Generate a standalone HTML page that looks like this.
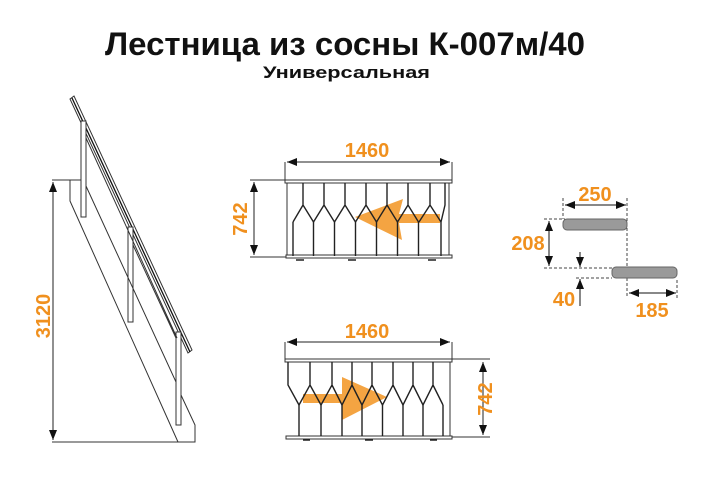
<!DOCTYPE html>
<html><head><meta charset="utf-8"><style>
html,body{margin:0;padding:0;background:#fff;width:722px;height:484px;overflow:hidden}
svg{display:block}
.t{font-family:"Liberation Sans","DejaVu Sans",sans-serif;font-weight:bold}
.o{fill:#f0901e;font-family:"Liberation Sans",sans-serif;font-weight:bold;font-size:20px}
</style></head><body>
<svg width="722" height="484" viewBox="0 0 722 484" xmlns="http://www.w3.org/2000/svg">
<defs>
<marker id="a" markerWidth="10" markerHeight="8" refX="10" refY="4" orient="auto-start-reverse" markerUnits="userSpaceOnUse"><path d="M0 0L10 4L0 8Z" fill="#111"/></marker>
</defs>
<text class="t" x="105" y="55" textLength="480" lengthAdjust="spacingAndGlyphs" font-size="32" fill="#111">Лестница из сосны К-007м/40</text>
<text class="t" x="263" y="78" textLength="167" lengthAdjust="spacingAndGlyphs" font-size="17" fill="#111">Универсальная</text>

<!-- side view stair -->
<g stroke="#333" stroke-width="1" fill="none">
<path d="M70 99L74 96L192 350L188 353Z" fill="#fff"/>
<path d="M72 98L190 352" stroke="#111" stroke-width="1.3"/>
<rect x="81" y="121" width="5" height="96" fill="#fff"/>
<rect x="128" y="227" width="5" height="95" fill="#fff"/>
<rect x="176" y="332" width="5" height="93" fill="#fff"/>
<path d="M52 180H81M70 180V201L178 442M86 138L177 338M86 186L176 382M133 245L176 338M181 395L195 425V442H52"/>
</g>
<line x1="53" y1="182" x2="53" y2="440" stroke="#222" stroke-width="1" marker-start="url(#a)" marker-end="url(#a)"/>
<text class="o" transform="translate(50,316) rotate(-90)" text-anchor="middle">3120</text>

<!-- top front view -->
<g stroke="#333" stroke-width="1" fill="none">
<path d="M285 162V180M452 162V180M250 180H285M250 257H290"/>
<rect x="285" y="180" width="167" height="3" fill="#fff"/>
<path d="M287 183V256M449 183V256"/>
<rect x="286" y="255" width="166" height="3" fill="#fff"/>
</g>
<polygon points="355,217 403,199 399,214 440,214 440,223 399,223 402,240" fill="#f39a2e" opacity="0.9"/>
<g stroke="#222" stroke-width="1.4" fill="none">
<path d="M303 183V205L293 222M303 205L313.5 222M324 183V205L313.5 222M324 205L334.5 222M345 183V205L334.5 222M345 205L355.5 222M366 183V205L355.5 222M366 205L376.5 222M387 183V205L376.5 222M387 205L397.5 222M408 183V205L397.5 222M408 205L418.5 222M430 183V205L419 222M430 205L441 222M445 183V205L441 222"/>
<path d="M293 222V256M313.5 222V256M334.5 222V256M355.5 222V256M376.5 222V256M397.5 222V256M418.5 222V256M441 222V256"/>
<path d="M296 260H304M348 260H356M428 260H436"/>
</g>
<line x1="287" y1="162" x2="450" y2="162" stroke="#222" marker-start="url(#a)" marker-end="url(#a)"/>
<text class="o" x="367" y="157" text-anchor="middle">1460</text>
<line x1="254" y1="182" x2="254" y2="255" stroke="#222" marker-start="url(#a)" marker-end="url(#a)"/>
<text class="o" transform="translate(247,219) rotate(-90)" text-anchor="middle">742</text>

<!-- bottom front view -->
<g stroke="#333" stroke-width="1" fill="none">
<path d="M285 342V359M452 342V359M452 359H490M452 437H490"/>
<rect x="285" y="359" width="167" height="3" fill="#fff"/>
<path d="M450 362V436"/>
<rect x="286" y="436" width="166" height="3" fill="#fff"/>
</g>
<polygon points="387,397 342,377 342,394 303,394 303,403 342,403 342,420" fill="#f39a2e" opacity="0.9"/>
<g stroke="#222" stroke-width="1.4" fill="none">
<path d="M288 362V385L299 405M310 362V385L299 405M310 385L321 405M332 362V385L321 405M332 385L342 405M352 362V385L342 405M352 385L362 405M372 362V385L362 405M372 385L382.5 405M393 362V385L382.5 405M393 385L403 405M413 362V385L403 405M413 385L423 405M433 362V385L423 405M433 385L443 405"/>
<path d="M299 405V436M321 405V436M342 405V436M362 405V436M382.5 405V436M403 405V436M423 405V436M443 405V436"/>
<path d="M303 440H310M365 440H373M430 440H437"/>
</g>
<line x1="287" y1="342" x2="450" y2="342" stroke="#222" marker-start="url(#a)" marker-end="url(#a)"/>
<text class="o" x="367" y="338" text-anchor="middle">1460</text>
<line x1="483" y1="362" x2="483" y2="435" stroke="#222" marker-start="url(#a)" marker-end="url(#a)"/>
<text class="o" transform="translate(492,399) rotate(-90)" text-anchor="middle">742</text>

<!-- tread detail -->
<g stroke="#444" stroke-width="1" stroke-dasharray="3,2" fill="none">
<path d="M563 198V219M627 198V298M544 219H565M544 268H612M576 278H612M677 280V298"/>
</g>
<rect x="563" y="219" width="64" height="11" rx="4" fill="#9a9a9a" stroke="#666"/>
<rect x="612" y="267" width="65" height="11" rx="4" fill="#9a9a9a" stroke="#666"/>
<line x1="565" y1="205" x2="626" y2="205" stroke="#111" marker-start="url(#a)" marker-end="url(#a)"/>
<text class="o" x="595" y="201" text-anchor="middle">250</text>
<line x1="549" y1="221" x2="549" y2="266" stroke="#111" marker-start="url(#a)" marker-end="url(#a)"/>
<text class="o" x="528" y="250" text-anchor="middle">208</text>
<line x1="580" y1="252" x2="580" y2="267" stroke="#111" marker-end="url(#a)"/>
<line x1="580" y1="306" x2="580" y2="279" stroke="#111" marker-end="url(#a)"/>
<text class="o" x="564" y="306" text-anchor="middle">40</text>
<line x1="629" y1="293" x2="676" y2="293" stroke="#111" marker-start="url(#a)" marker-end="url(#a)"/>
<text class="o" x="652" y="317" text-anchor="middle">185</text>
</svg>
</body></html>
